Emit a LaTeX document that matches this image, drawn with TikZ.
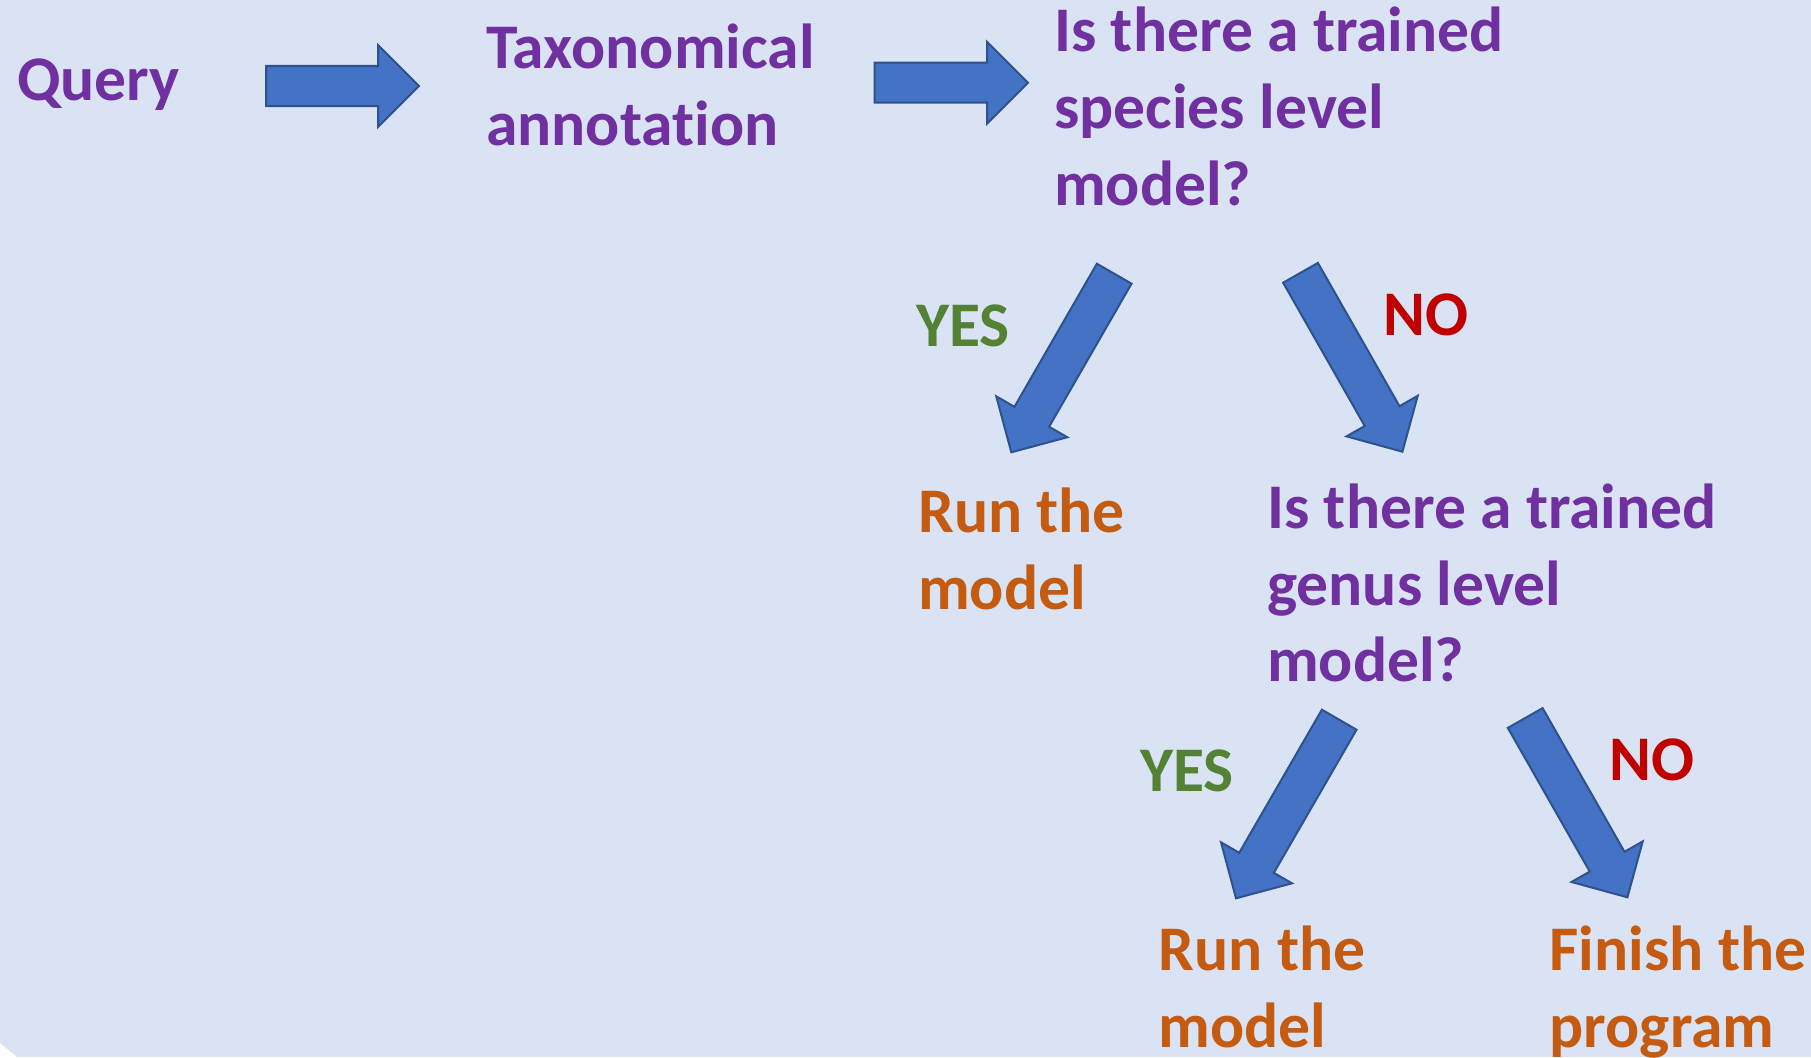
\documentclass[tikz,border=0pt]{standalone}
\usepackage{fontspec}
\setmainfont{Carlito}[Ligatures={NoCommon}]
\usetikzlibrary{calc}
\definecolor{bgblue}{HTML}{DAE3F3}
\definecolor{arrfill}{HTML}{4472C4}
\definecolor{arrline}{HTML}{2F528F}
\definecolor{qpurple}{HTML}{7030A0}
\definecolor{rorange}{HTML}{C55A11}
\definecolor{ygreen}{HTML}{548235}
\definecolor{nred}{HTML}{C00000}
\tikzset{
  lbl/.style={inner sep=0pt, anchor=base west, align=left,
    font=\fontsize{63.6pt}{76.7pt}\selectfont\bfseries},
  question/.style={lbl, text=qpurple},
  action/.style={lbl, text=rorange},
  yeslbl/.style={lbl, text=ygreen},
  nolbl/.style={lbl, text=nred},
  barrow/.style={fill=arrfill, draw=arrline, line width=2pt, line join=miter}
}
\newcommand\blockarrow[2]{%
  \path ($(#2)!41pt!(#1)$) coordinate (hb);
  \filldraw[barrow] ($(#1)!20pt!90:(#2)$) -- ($(hb)!20pt!-90:(#1)$) -- ($(hb)!41pt!-90:(#1)$) -- (#2)
    -- ($(hb)!41pt!90:(#1)$) -- ($(hb)!20pt!90:(#1)$) -- ($(#1)!20pt!-90:(#2)$) -- cycle;}
\begin{document}
\begin{tikzpicture}[x=1pt,y=-1pt]
\useasboundingbox (0,0) rectangle (1811,1057);
\fill[bgblue] (0,0) rectangle (1811,1057);
\fill[white] (0,1043) -- (0,1057) -- (17,1057) -- cycle;

% texts (multi-line nodes are placed at the baseline of their last line)
\node[question] (query) at (17,100) {Query};
\node[question] (taxo) at (486,145) {Taxonomical\\annotation};
\node[question] (q1) at (1054,205) {Is there a trained\\species level\\model?};
\node[yeslbl] (yes1) at (916,346) {YES};
\node[nolbl] (no1) at (1383,335) {NO};
\node[action] (run1) at (918,609) {Run the\\model};
\node[question] (q2) at (1267,681.7) {Is there a trained\\genus level\\model?};
\node[yeslbl] (yes2) at (1140,791) {YES};
\node[nolbl] (no2) at (1609,780) {NO};
\node[action] (run2) at (1158.5,1047) {Run the\\model};
\node[action] (finish) at (1549.5,1047) {Finish the\\program};

% arrow end points
\coordinate (a1t) at (266,86);
\coordinate (a1h) at (419,86);
\coordinate (a2t) at (874.5,82.7);
\coordinate (a2h) at (1028,82.7);
\coordinate (y1t) at (1114.2,273.7);
\coordinate (y1h) at (1011.3,452.3);
\coordinate (n1t) at (1300.5,272.8);
\coordinate (n1h) at (1402.4,451.7);
\coordinate (y2t) at (1339.2,719.7);
\coordinate (y2h) at (1236,898.3);
\coordinate (n2t) at (1525.2,718);
\coordinate (n2h) at (1627.4,897.3);

\blockarrow{a1t}{a1h}
\blockarrow{a2t}{a2h}
\blockarrow{y1t}{y1h}
\blockarrow{n1t}{n1h}
\blockarrow{y2t}{y2h}
\blockarrow{n2t}{n2h}
\end{tikzpicture}
\end{document}
